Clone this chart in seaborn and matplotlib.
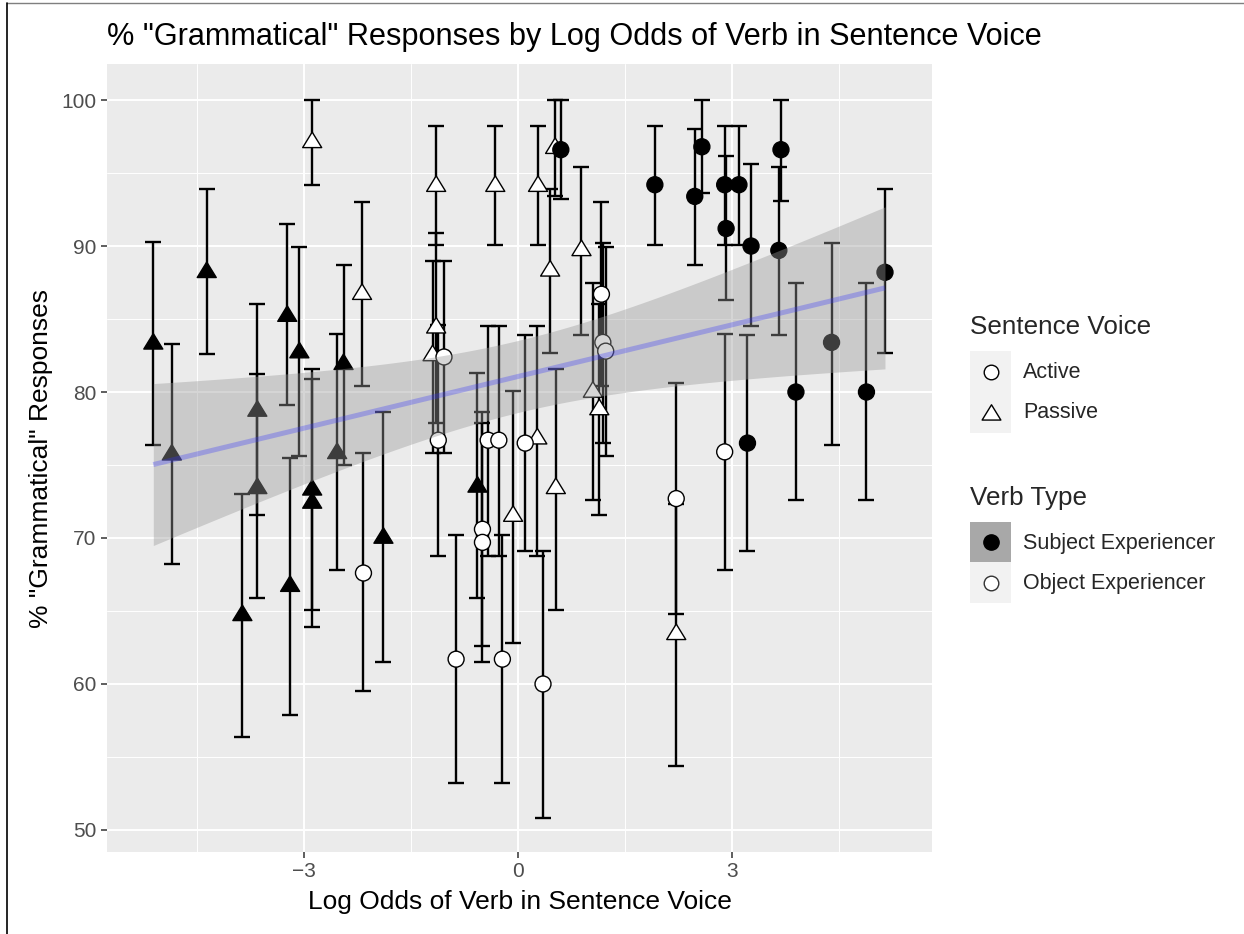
import numpy as np
import pandas as pd
import matplotlib
matplotlib.use("Agg")
import matplotlib.pyplot as plt
import seaborn as sns
from matplotlib.lines import Line2D
from matplotlib.patches import Rectangle
from matplotlib.path import Path

# ---------------- data ----------------
# Subject Experiencer, Passive
se_pas_x = [-5.12, -4.86, -4.37, -3.87, -3.66, -3.66, -3.24, -3.07, -3.20, -2.89, -2.89, -2.54, -2.45, -1.89, -0.57]
se_pas_y = [83.4, 75.8, 88.3, 64.8, 78.8, 73.5, 85.3, 82.8, 66.8, 73.4, 72.5, 75.9, 82.0, 70.1, 73.6]
se_pas_lo = [76.4, 68.2, 82.6, 56.4, 71.6, 65.9, 79.1, 75.6, 57.9, 65.1, 63.9, 67.8, 75.0, 61.5, 65.9]
se_pas_hi = [90.3, 83.3, 93.9, 73.0, 86.0, 81.2, 91.5, 89.9, 75.5, 81.6, 80.9, 84.0, 88.7, 78.6, 81.3]

# Object Experiencer, Passive
oe_pas_x = [-2.89, -2.19, -1.15, -1.15, -1.20, -0.32, 0.28, 0.52, 0.45, 0.89, 0.27, -0.07, 0.53, 1.05, 1.14, 2.22]
oe_pas_y = [97.2, 86.8, 94.2, 84.5, 82.6, 94.2, 94.2, 96.8, 88.4, 89.8, 76.9, 71.6, 73.5, 80.1, 78.9, 63.5]
oe_pas_lo = [94.2, 80.4, 90.1, 77.9, 75.8, 90.1, 90.1, 93.4, 82.7, 83.9, 68.8, 62.8, 65.1, 72.6, 71.6, 54.4]
oe_pas_hi = [100.0, 93.0, 98.2, 90.9, 89.0, 98.2, 98.2, 100.0, 93.9, 95.4, 84.5, 80.1, 81.6, 87.5, 86.0, 72.3]

# Subject Experiencer, Active
se_act_x = [0.60, 1.92, 2.48, 2.58, 2.90, 2.92, 3.10, 3.27, 3.69, 3.66, 4.40, 5.15, 3.90, 4.89, 3.22]
se_act_y = [96.6, 94.2, 93.4, 96.8, 94.2, 91.2, 94.2, 90.0, 96.6, 89.7, 83.4, 88.2, 80.0, 80.0, 76.5]
se_act_lo = [93.2, 90.1, 88.7, 93.6, 90.1, 86.3, 90.1, 84.5, 93.1, 83.9, 76.4, 82.7, 72.6, 72.6, 69.1]
se_act_hi = [100.0, 98.2, 98.0, 100.0, 98.2, 96.2, 98.2, 95.6, 100.0, 95.4, 90.2, 93.9, 87.5, 87.5, 83.9]

# Object Experiencer, Active
oe_act_x = [-2.17, -1.04, -1.12, -0.42, -0.27, 0.10, -0.50, -0.50, -0.87, -0.22, 0.35, 1.17, 1.19, 1.23, 2.22, 2.90]
oe_act_y = [67.6, 82.4, 76.7, 76.7, 76.7, 76.5, 70.6, 69.7, 61.7, 61.7, 60.0, 86.7, 83.4, 82.8, 72.7, 75.9]
oe_act_lo = [59.5, 75.8, 68.8, 68.8, 68.8, 69.1, 62.6, 61.5, 53.2, 53.2, 50.8, 80.4, 76.5, 75.6, 64.8, 67.8]
oe_act_hi = [75.8, 89.0, 84.6, 84.5, 84.5, 83.9, 78.6, 77.9, 70.2, 70.2, 69.1, 93.0, 90.2, 89.9, 80.6, 84.0]

voices = ["Active", "Passive"]
verb_types = ["Subject Experiencer", "Object Experiencer"]
x_ticks = [-3, 0, 3]
x_tick_labels = ["\u22123", "0", "3"]
y_ticks = [50, 60, 70, 80, 90, 100]

title = '% "Grammatical" Responses by Log Odds of Verb in Sentence Voice'
x_label = "Log Odds of Verb in Sentence Voice"
y_label = '% "Grammatical" Responses'

# ---------------- build table ----------------
frames = []
for xs, ys, lo, hi, v, t in [
    (se_pas_x, se_pas_y, se_pas_lo, se_pas_hi, "Passive", "Subject Experiencer"),
    (oe_pas_x, oe_pas_y, oe_pas_lo, oe_pas_hi, "Passive", "Object Experiencer"),
    (se_act_x, se_act_y, se_act_lo, se_act_hi, "Active", "Subject Experiencer"),
    (oe_act_x, oe_act_y, oe_act_lo, oe_act_hi, "Active", "Object Experiencer"),
]:
    frames.append(pd.DataFrame({"x": xs, "y": ys, "lo": lo, "hi": hi, "voice": v, "verb": t}))
df = pd.concat(frames, ignore_index=True)

# ---------------- style ----------------
sns.set_theme(style="darkgrid")
plt.rcParams["font.family"] = ["Liberation Sans", "DejaVu Sans"]

W, H = 1244, 934
fig = plt.figure(figsize=(W / 100, H / 100), dpi=100)
fig.patch.set_facecolor("white")


def fx(px):
    return px / W


def fy(py):
    return 1 - py / H


ax = fig.add_axes([fx(107), fy(852), fx(932) - fx(107), fy(64) - fy(852)])
ax.set_facecolor("#EBEBEB")
ax.set_xlim(-5.77, 5.81)
ax.set_ylim(48.49, 102.47)

# error bars
ax.errorbar(df["x"], df["y"], yerr=[df["y"] - df["lo"], df["hi"] - df["y"]],
            fmt="none", ecolor="black", elinewidth=1.7, capsize=6.1, capthick=1.7, zorder=2)

# closed equilateral-like triangle marker (ggplot shape 24 look)
tri = Path([(-1.0, -0.7), (1.0, -0.7), (0.0, 0.93), (-1.0, -0.7)],
           [Path.MOVETO, Path.LINETO, Path.LINETO, Path.CLOSEPOLY])
sns.scatterplot(data=df, x="x", y="y", hue="verb", style="voice", size="voice",
                hue_order=verb_types, style_order=voices,
                palette={"Subject Experiencer": "black", "Object Experiencer": "white"},
                markers={"Active": "o", "Passive": tri},
                sizes={"Active": 132, "Passive": 188},
                edgecolor="black", linewidth=1.0, alpha=1, legend=False, ax=ax, zorder=3)

# linear fit with 95% confidence band
X = df["x"].to_numpy()
Y = df["y"].to_numpy()
n = len(X)
b1, b0 = np.polyfit(X, Y, 1)
xs = np.linspace(X.min(), X.max(), 100)
yhat = b0 + b1 * xs
res = Y - (b0 + b1 * X)
s = np.sqrt(np.sum(res ** 2) / (n - 2))
sxx = np.sum((X - X.mean()) ** 2)
se = s * np.sqrt(1.0 / n + (xs - X.mean()) ** 2 / sxx)
tval = 2.0003
ax.fill_between(xs, yhat - tval * se, yhat + tval * se, color="#999999", alpha=0.4, lw=0, zorder=4)
ax.plot(xs, yhat, color="#3333ff", alpha=0.3, lw=3.6, zorder=5, solid_capstyle="butt")

# grid / ticks
ax.set_xticks(x_ticks)
ax.set_xticklabels(x_tick_labels)
ax.set_yticks(y_ticks)
ax.set_xticks([-4.5, -1.5, 1.5, 4.5], minor=True)
ax.set_yticks([55, 65, 75, 85, 95], minor=True)
ax.grid(which="major", color="white", lw=1.4)
ax.grid(which="minor", color="white", lw=0.7)
ax.set_axisbelow(True)
for sp in ax.spines.values():
    sp.set_visible(False)
ax.tick_params(which="major", bottom=True, left=True, length=4.5, width=1.1, color="#333333",
               labelsize=15, labelcolor="#4D4D4D", pad=3)
ax.tick_params(which="minor", bottom=False, left=False, length=0)
ax.set_xlabel("")
ax.set_ylabel("")

# titles
fig.text(fx(107), fy(37), title, fontsize=22.1, ha="left", va="center", color="black")
fig.text(fx(519.5), fy(909), x_label, fontsize=19, ha="center", va="baseline", color="black")
fig.text(fx(41), fy(458), y_label, fontsize=19, ha="center", va="center", rotation=90, color="black")

# legend (manual, ggplot style)
def key_box(y0, y1, color):
    fig.add_artist(Rectangle((fx(970), fy(y1)), fx(1011) - fx(970), fy(y0) - fy(y1),
                             transform=fig.transFigure, facecolor=color, edgecolor="none"))


def key_marker(y, marker, face, ms, edge="black"):
    fig.add_artist(Line2D([fx(990.5)], [fy(y)], marker=marker, markersize=ms, markerfacecolor=face,
                          markeredgecolor=edge, markeredgewidth=1.0, linestyle="none",
                          transform=fig.transFigure))


fig.text(fx(970), fy(327), "Sentence Voice", fontsize=18.7, ha="left", va="center")
key_box(351, 392, "#F2F2F2")
key_box(392, 433, "#F2F2F2")
key_marker(372, "o", "white", 10.5)
key_marker(413, tri, "white", 13.5)
fig.text(fx(1023), fy(372), voices[0], fontsize=15.5, ha="left", va="center")
fig.text(fx(1023), fy(413), voices[1], fontsize=15.5, ha="left", va="center")

fig.text(fx(970), fy(498), "Verb Type", fontsize=18.7, ha="left", va="center")
key_box(522, 562, "#A8A8A8")
key_box(562, 603, "#F2F2F2")
key_marker(542, "o", "black", 11)
key_marker(583, "o", "white", 10.5, edge="#333333")
fig.text(fx(1023), fy(543), verb_types[0], fontsize=15.5, ha="left", va="center")
fig.text(fx(1023), fy(583), verb_types[1], fontsize=15.5, ha="left", va="center")

# outer frame lines seen in the reference
fig.add_artist(Line2D([fx(7), 1], [fy(2.5), fy(2.5)], color="#7F7F7F", lw=1.0, transform=fig.transFigure))
fig.add_artist(Line2D([fx(7), fx(7)], [fy(2.5), 0], color="black", lw=1.2, transform=fig.transFigure))

fig.savefig("out.png", dpi=100, facecolor="white")
